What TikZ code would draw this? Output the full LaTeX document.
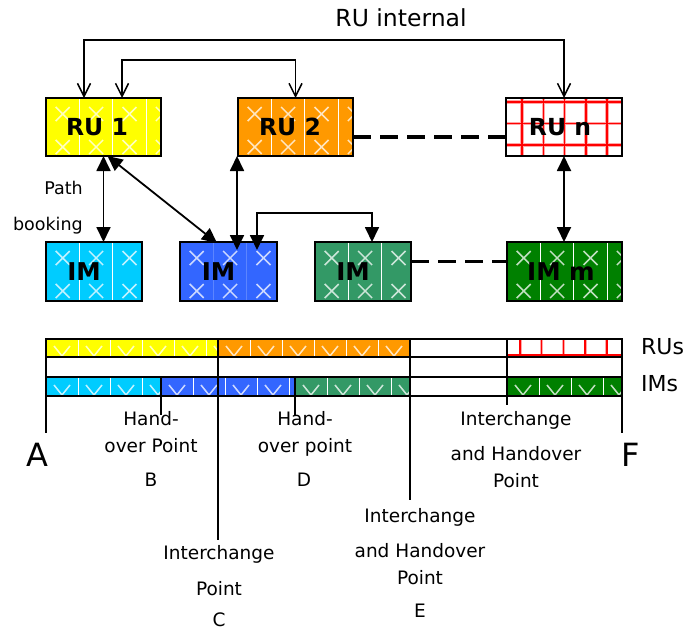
\documentclass[tikz,border=0pt]{standalone}
\usepackage{fontspec}
\setmainfont{DejaVu Sans}
\usetikzlibrary{arrows.meta,calc}
\definecolor{ruyellow}{HTML}{FFFF00}
\definecolor{ruorange}{HTML}{FF9900}
\definecolor{imcyan}{HTML}{00CCFF}
\definecolor{imblue}{HTML}{3366FF}
\definecolor{imgreen}{HTML}{339966}
\definecolor{imdgreen}{HTML}{008000}
\definecolor{gridred}{HTML}{FF0000}
\begin{document}
\begin{tikzpicture}[x=1pt,y=-1pt,
  xmk/.style={draw=white, draw opacity=0.75, line width=1.5pt},
  box/.style={draw=black, line width=1.6pt, inner sep=0pt, outer sep=0pt, minimum height=58pt,
    font=\fontsize{23.5}{28}\selectfont\bfseries},
  imbox/.style={box, minimum height=59pt, font=\fontsize{24.5}{29}\selectfont\bfseries},
  bar/.style={draw=black, line width=1.4pt, inner sep=0pt, outer sep=0pt, minimum height=#1},
  xpat/.style={path picture={
    \coordinate (pp) at (path picture bounding box.north west);
    \coordinate (pq) at (path picture bounding box.south west);
    \foreach \k in {1,...,4}{\draw[line width=1pt,#1] ($(pp)+(\k*33.4,0)$) -- ($(pq)+(\k*33.4,0)$);}
    \foreach \k in {0,...,4}{\foreach \r in {16,49}{
      \draw[xmk] ($(pp)+(\k*33.4+9.7,\r-7)$) -- ++(14,14) ++(0,-14) -- ++(-14,14);}}
  }},
  vpat/.style={path picture={
    \coordinate (pp) at (path picture bounding box.north west);
    \coordinate (pq) at (path picture bounding box.south west);
    \foreach \k in {1,...,6}{\draw[white,line width=0.9pt] ($(pp)+(\k*32,0)$) -- ($(pq)+(\k*32,0)$);}
    \foreach \k in {0,...,6}{\draw[xmk] ($(pq)+(\k*32+8,-11)$) -- ++(8,10) -- ++(8,-10);}
  }},
  rgridbox/.style={path picture={
    \coordinate (pp) at (path picture bounding box.north west);
    \coordinate (pq) at (path picture bounding box.south west);
    \foreach \k in {0,...,5}{\draw[gridred!35,line width=3.5pt] ($(pp)+(16+\k*21.3,0)$) -- ($(pq)+(16+\k*21.3,0)$);}
    \foreach \r in {4,25.5,47}{\draw[gridred!35,line width=3.5pt] ($(pp)+(0,\r)$) -- ++(130,0);}
    \foreach \k in {0,...,5}{\draw[gridred,line width=1.6pt] ($(pp)+(16+\k*21.3,0)$) -- ($(pq)+(16+\k*21.3,0)$);}
    \foreach \r in {4,25.5,47}{\draw[gridred,line width=1.6pt] ($(pp)+(0,\r)$) -- ++(130,0);}
  }},
  rgridbar/.style={path picture={
    \coordinate (pp) at (path picture bounding box.north west);
    \coordinate (pq) at (path picture bounding box.south west);
    \foreach \k in {0,...,5}{\draw[gridred!35,line width=3pt] ($(pp)+(13+\k*21.7,0)$) -- ($(pq)+(13+\k*21.7,0)$);}
    \foreach \k in {0,...,5}{\draw[gridred,line width=1.4pt] ($(pp)+(13+\k*21.7,0)$) -- ($(pq)+(13+\k*21.7,0)$);}
    \draw[gridred,line width=1.4pt] ($(pq)+(0,-2)$) -- ++(130,0);
  }},
  bidir/.style={line width=1.8pt, {Triangle[length=15pt,width=14pt]}-{Triangle[length=15pt,width=14pt]}},
  openarr/.style={line width=1.5pt, {Straight Barb[length=13pt,width=13pt]}-{Straight Barb[length=13pt,width=13pt]}},
  dashcon/.style={line width=3.5pt, dash pattern=on 18pt off 9pt},
  tick/.style={line width=1.8pt},
  lbl/.style={font=\fontsize{18.5}{27}\selectfont, align=center, inner sep=0pt},
  letter/.style={font=\fontsize{18.5}{22}\selectfont, inner sep=0pt},
  big/.style={font=\fontsize{32}{38}\selectfont, inner sep=0pt}
]
\useasboundingbox (0,0) rectangle (688,632);

% top boxes
\node[box, minimum width=115pt, fill=ruyellow, xpat=white] (ru1) at (103.5,127) {RU 1\hspace*{13pt}};
\node[box, minimum width=115pt, fill=ruorange, xpat=white] (ru2) at (295.5,127) {RU 2\hspace*{11pt}};
\node[box, minimum width=116pt, fill=white, rgridbox] (run) at (564,127) {RU n\hspace*{8pt}};

% IM boxes
\node[imbox, minimum width=96pt, fill=imcyan, xpat=white] (im1) at (94,271.5) {IM\hspace*{20pt}};
\node[imbox, minimum width=97pt, fill=imblue, xpat={imblue!80!white}] (im2) at (228.5,271.5) {IM\hspace*{20pt}};
\node[imbox, minimum width=96pt, fill=imgreen, xpat=white] (im3) at (363,271.5) {IM\hspace*{20pt}};
\node[imbox, minimum width=115pt, fill=imdgreen, xpat=white] (imm) at (564.5,271.5) {IM m\hspace*{7pt}};

% RU internal connectors
\node[font=\fontsize{23.5}{28}\selectfont, inner sep=0pt] (rulbl) at (401,18) {RU internal};
\draw[openarr] ([xshift=-19.5pt]ru1.north) -- ++(0,-58) -| (run.north);
\draw[openarr] ([xshift=18.5pt]ru1.north) -- ++(0,-38) -| (ru2.north);

% path booking connectors
\node[font=\fontsize{17.5}{36}\selectfont, align=right, inner sep=0pt, anchor=north east] (pb) at (83,181) {Path\\booking};
\draw[bidir] (ru1.south) -- (ru1.south |- im1.north);
\draw[bidir] ([xshift=4pt]ru1.south) -- ([xshift=37pt,yshift=-1pt]im2.north west);
\draw[bidir] ([xshift=-1pt]ru2.south west) -- ([xshift=57pt,yshift=-8pt]im2.north west);
\coordinate (im2in) at ([xshift=77pt,yshift=-8pt]im2.north west);
\draw[bidir] (im2in) -- ++(0,-37) -| ([xshift=57pt]im3.north west);
\draw[bidir] (run.south) -- (run.south |- imm.north);

% dashed links
\draw[dashcon] ([yshift=-10pt]ru2.east) -- ([yshift=-10pt]run.west);
\draw[dashcon] ([yshift=10pt]im3.east) -- ([yshift=10pt]imm.west);

% bars
\node[bar=18pt, minimum width=172pt, fill=ruyellow, vpat] (ybar) at (132,348) {};
\node[bar=18pt, minimum width=192pt, fill=ruorange, vpat] (obar) at (314,348) {};
\node[bar=18pt, minimum width=97pt, fill=white] (wbar1) at (458.5,348) {};
\node[bar=18pt, minimum width=115pt, fill=white, rgridbar] (rbar) at (564.5,348) {};
\node[bar=20pt, minimum width=576pt, fill=white] (mbar) at (334,367) {};
\node[bar=19pt, minimum width=115pt, fill=imcyan, vpat] (cbar) at (103.5,386.5) {};
\node[bar=19pt, minimum width=134pt, fill=imblue, vpat] (bbar) at (228,386.5) {};
\node[bar=19pt, minimum width=115pt, fill=imgreen, vpat] (gbar) at (352.5,386.5) {};
\node[bar=19pt, minimum width=97pt, fill=white] (wbar2) at (458.5,386.5) {};
\node[bar=19pt, minimum width=115pt, fill=imdgreen, vpat] (dgbar) at (564.5,386.5) {};

\node[font=\fontsize{22}{26}\selectfont, inner sep=0pt, anchor=west] (rus) at (641,347) {RUs};
\node[font=\fontsize{22}{26}\selectfont, inner sep=0pt, anchor=west] (ims) at (641,384) {IMs};

% ticks
\coordinate (Aend) at (46,433);
\coordinate (Bend) at (161,415);
\coordinate (Cend) at (218,540);
\coordinate (Dend) at (295,415);
\coordinate (Eend) at (410,500);
\coordinate (Hend) at (507,405);
\coordinate (Fend) at (622,433);
\draw[tick] (cbar.south west) -- (Aend);
\draw[tick] (cbar.south east) -- (Bend);
\draw[tick] (ybar.north east) -- (Cend);
\draw[tick] (gbar.south west) -- (Dend);
\draw[tick] (obar.north east) -- (Eend);
\draw[tick] (rbar.north west) -- (Hend);
\draw[tick] (dgbar.south east) -- (Fend);

% labels
\node[big] (la) at (37,455) {A};
\node[big] (lf) at (631,455) {F};
\node[lbl, anchor=north] (tb) at (151,411) {Hand-\\over Point};
\node[letter] (lb) at (151,480) {B};
\node[lbl, anchor=north] (td) at (305,411) {Hand-\\over point};
\node[letter] (ld) at (304,480) {D};
\node[lbl, anchor=north] (tc) at (219,545) {Interchange\\[9pt]Point};
\node[letter] (lc) at (219,620) {C};
\node[lbl, anchor=north] (te) at (420,508) {Interchange\\[8pt]and Handover\\Point};
\node[letter] (le) at (420,611) {E};
\node[lbl, anchor=north] (th) at (516,411) {Interchange\\[8pt]and Handover\\Point};
\end{tikzpicture}
\end{document}
